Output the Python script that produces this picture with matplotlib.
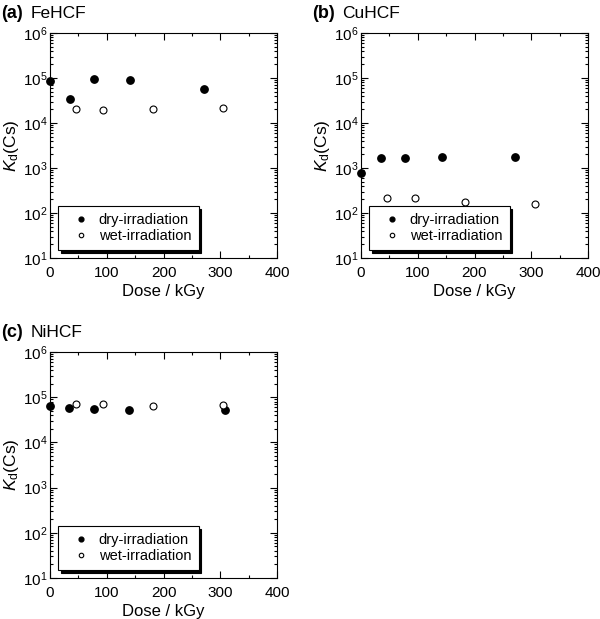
import matplotlib
matplotlib.use("Agg")
import matplotlib.pyplot as plt
from matplotlib.ticker import LogLocator, MultipleLocator, FixedLocator, NullFormatter
import numpy as np

plt.rcParams['font.family'] = ['Liberation Sans', 'DejaVu Sans']
plt.rcParams['mathtext.fontset'] = 'custom'
plt.rcParams['mathtext.rm'] = 'Liberation Sans'
plt.rcParams['mathtext.it'] = 'Liberation Sans:italic'

# ---- data ----
panel_letters = ["(a)", "(b)", "(c)"]
panel_names = ["FeHCF", "CuHCF", "NiHCF"]

fe_dry_dose = [0, 35, 78, 141, 271]
fe_dry_kd = [8.7e4, 3.4e4, 9.3e4, 8.9e4, 5.8e4]
fe_wet_dose = [46, 94, 182, 304]
fe_wet_kd = [2.1e4, 1.9e4, 2.1e4, 2.2e4]

cu_dry_dose = [0, 36, 78, 142, 272]
cu_dry_kd = [760, 1650, 1650, 1780, 1780]
cu_wet_dose = [46, 95, 183, 306]
cu_wet_kd = [212, 215, 173, 158]

ni_dry_dose = [0, 34, 78, 140, 309]
ni_dry_kd = [6.3e4, 5.9e4, 5.5e4, 5.3e4, 5.1e4]
ni_wet_dose = [45, 93, 182, 304]
ni_wet_kd = [7.0e4, 6.9e4, 6.4e4, 6.7e4]

series = [
    (fe_dry_dose, fe_dry_kd, fe_wet_dose, fe_wet_kd),
    (cu_dry_dose, cu_dry_kd, cu_wet_dose, cu_wet_kd),
    (ni_dry_dose, ni_dry_kd, ni_wet_dose, ni_wet_kd),
]
legend_labels = ["dry-irradiation", "wet-irradiation"]
x_ticks = [0, 100, 200, 300, 400]
y_ticks = [1e1, 1e2, 1e3, 1e4, 1e5, 1e6]
y_ticklabels = [r"$10^{1}$", r"$10^{2}$", r"$10^{3}$", r"$10^{4}$", r"$10^{5}$", r"$10^{6}$"]

W, H = 600, 619
fig = plt.figure(figsize=(W / 100, H / 100), dpi=100)

# axes boxes in pixels: left, top, right, bottom
boxes = [(50, 33, 277, 258), (361, 33, 588, 258), (50, 352, 277, 578)]

for i, (l, t, r, b) in enumerate(boxes):
    ax = fig.add_axes([l / W, 1 - b / H, (r - l) / W, (b - t) / H])
    dd, dk, wd, wk = series[i]
    ax.plot(dd, dk, 'o', color='black', markersize=5.3, linestyle='none',
            label=legend_labels[0], clip_on=False, zorder=3)
    ax.plot(wd, wk, 'o', markerfacecolor='white', markeredgecolor='black',
            markeredgewidth=0.8, markersize=5.0, linestyle='none',
            label=legend_labels[1], clip_on=False, zorder=3)
    ax.set_yscale('log')
    ax.set_xlim(0, 400)
    ax.set_ylim(1e1, 1e6)
    ax.xaxis.set_major_locator(FixedLocator(x_ticks))
    ax.xaxis.set_minor_locator(MultipleLocator(50))
    ax.set_xticklabels([str(v) for v in x_ticks])
    ax.yaxis.set_major_locator(FixedLocator(y_ticks))
    ax.set_yticklabels(y_ticklabels)
    ax.yaxis.set_minor_locator(LogLocator(base=10, subs=np.arange(2, 10), numticks=20))
    ax.yaxis.set_minor_formatter(NullFormatter())
    ax.tick_params(which='both', direction='in', top=True, right=True,
                   labelsize=11, width=0.8)
    ax.tick_params(axis='x', which='both', pad=5.5)
    ax.tick_params(axis='y', which='both', pad=2)
    ax.tick_params(which='major', length=5)
    ax.tick_params(which='minor', length=2.5)
    for s in ax.spines.values():
        s.set_linewidth(0.8)
    ax.set_xlabel("Dose / kGy", fontsize=12, labelpad=3)
    ax.set_ylabel(r"$K_\mathrm{d}$(Cs)", fontsize=12.5, labelpad=1)
    leg = ax.legend(loc='lower left', bbox_to_anchor=(8 / 227, 8 / 225),
                    borderaxespad=0, fancybox=False, frameon=True,
                    edgecolor='black', shadow={'color': 'black', 'alpha': 1},
                    fontsize=10.5, handlelength=2.2, handletextpad=0.1,
                    borderpad=0.5, labelspacing=0.1, numpoints=1,
                    markerscale=0.65)
    leg.get_frame().set_linewidth(0.8)
    leg.get_frame().set_alpha(1)
    # panel title
    ty = 1 - (14 + (t - 33)) / H
    fig.text((l - 50 + 1) / W, ty, panel_letters[i],
             fontsize=13, fontweight='bold', va='center', ha='left')
    fig.text((l - 50 + 31) / W, ty, panel_names[i],
             fontsize=12.5, va='center', ha='left')

fig.savefig("out.png", dpi=100)
